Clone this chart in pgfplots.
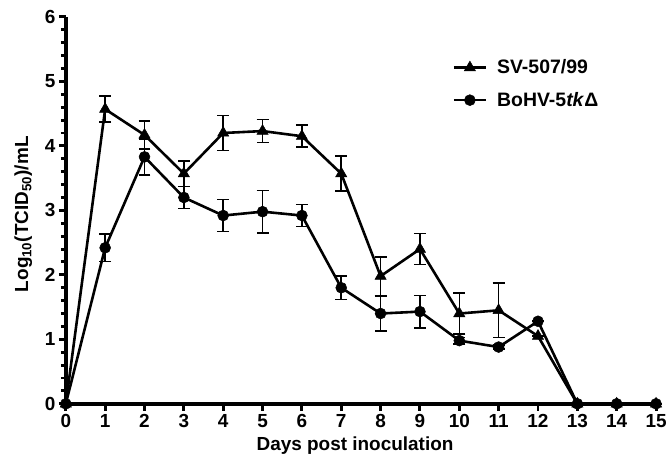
\documentclass[border=0pt]{standalone}
\usepackage{pgfplots}
\pgfplotsset{compat=1.18}
\usepackage{fontspec}
\setmainfont{Liberation Sans}
\begin{document}
\begin{tikzpicture}[font=\fontsize{19}{22}\selectfont\bfseries]
\path[use as bounding box] (-66pt,-52pt) rectangle (606pt,405pt);
\begin{axis}[
 scale only axis, width=592pt, height=388pt,
 xmin=0, xmax=15, ymin=0, ymax=6,
 axis lines=left, axis line style={line width=3.5pt, -},
 clip=false,
 xtick={0,...,15}, ytick={0,...,6},
 minor y tick num=4,
 tick align=outside,
 major tick length=7pt, minor tick length=5pt,
 every tick/.style={line width=3pt, black},
 tick label style={font=\fontsize{19}{22}\selectfont\bfseries},
 /pgf/number format/assume math mode=true,
 xlabel={Days post inoculation},
 ylabel={Log\textsubscript{10}(TCID\textsubscript{50})/mL},
 label style={font=\fontsize{19}{22}\selectfont\bfseries},
 xlabel style={at={(axis description cs:0.49,-0.108)}, anchor=center},
 ylabel style={at={(axis description cs:-0.072,0.49)}, anchor=center},
 legend style={at={(0.65,0.90)}, anchor=north west, draw=none, fill=none, row sep=13pt, column sep=8pt, font=\fontsize{19.5}{22}\selectfont\bfseries},
 legend cell align=left,
 legend image code/.code={\draw[mark repeat=2,mark phase=2] plot coordinates {(0pt,0pt) (16pt,0pt) (32pt,0pt)};},
]
\addplot[black, line width=2.6pt, mark=triangle*, mark size=6.5pt, mark options={solid, line width=0.5pt},
 error bars/.cd, y dir=both, y explicit, error bar style={line width=1.6pt},
 error mark options={rotate=90, mark size=6pt, line width=1.6pt}]
 coordinates {
 (0,0) +- (0,0)
 (1,4.57) +- (0,0.2)
 (2,4.17) +- (0,0.22)
 (3,3.57) +- (0,0.2)
 (4,4.2) +- (0,0.27)
 (5,4.23) +- (0,0.18)
 (6,4.15) +- (0,0.17)
 (7,3.57) +- (0,0.27)
 (8,1.98) +- (0,0.3)
 (9,2.4) +- (0,0.24)
 (10,1.4) +- (0,0.32)
 (11,1.45) +- (0,0.42)
 (12,1.05) +- (0,0)
 (13,0) +- (0,0)
 (14,0) +- (0,0)
 (15,0) +- (0,0)
 };
\addlegendentry{SV-507/99}
\addplot[black, line width=2.6pt, mark=*, mark size=5.5pt, mark options={solid, line width=0.5pt},
 error bars/.cd, y dir=both, y explicit, error bar style={line width=1.6pt},
 error mark options={rotate=90, mark size=6pt, line width=1.6pt}]
 coordinates {
 (0,0) +- (0,0)
 (1,2.42) +- (0,0.21)
 (2,3.83) +- (0,0.28)
 (3,3.2) +- (0,0.17)
 (4,2.92) +- (0,0.25)
 (5,2.98) +- (0,0.33)
 (6,2.92) +- (0,0.17)
 (7,1.8) +- (0,0.18)
 (8,1.4) +- (0,0.27)
 (9,1.43) +- (0,0.25)
 (10,0.98) +- (0,0.05)
 (11,0.88) +- (0,0.03)
 (12,1.28) +- (0,0)
 (13,0) +- (0,0)
 (14,0) +- (0,0)
 (15,0) +- (0,0)
 };
\addlegendentry{BoHV-5\textit{tk}Δ}
\end{axis}
\end{tikzpicture}
\end{document}
